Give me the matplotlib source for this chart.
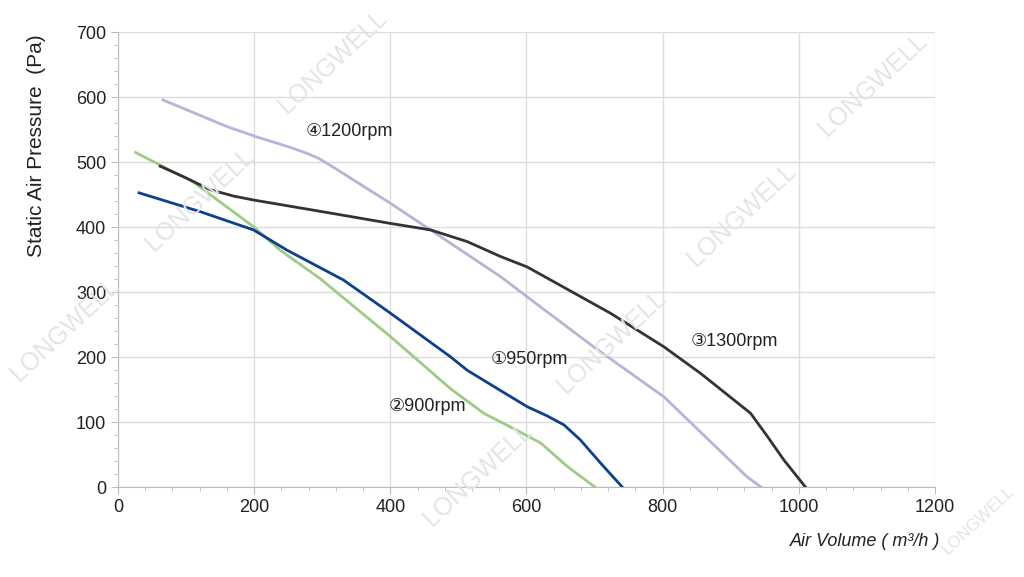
import matplotlib
matplotlib.use('Agg')
from matplotlib import pyplot as plt
from matplotlib.ticker import MultipleLocator

plt.rcParams['font.family'] = ['Liberation Sans', 'DejaVu Sans']

## Fan curves (air volume m3/h, static pressure Pa)
x_950 = [31, 121, 199, 248, 331, 400, 488, 513, 560, 601, 630, 655, 679, 709, 741]
y_950 = [453, 424, 396, 365, 319, 268, 201, 180, 150, 124, 110, 96, 73, 37, 0]

x_900 = [26, 110, 199, 238, 297, 400, 488, 537, 576, 621, 660, 701]
y_900 = [515, 470, 401, 365, 321, 232, 152, 114, 93, 68, 32, 0]

x_1300 = [62, 100, 135, 170, 199, 317, 400, 459, 513, 562, 601, 723, 802, 856, 929, 954, 978, 1010]
y_1300 = [494, 476, 458, 448, 442, 421, 406, 396, 378, 355, 339, 268, 216, 175, 114, 78, 42, 0]

x_1200 = [66, 160, 204, 250, 277, 295, 320, 400, 459, 562, 601, 700, 802, 924, 945]
y_1200 = [596, 555, 539, 524, 514, 506, 490, 437, 396, 324, 293, 215, 139, 16, 0]

labels = ['\u2460950rpm', '\u2461900rpm', '\u24621300rpm', '\u24631200rpm']
label_pos = [(547, 196), (397, 124), (841, 224), (275, 547)]

fig = plt.figure(figsize=(10.24, 5.77), dpi=100)
ax = fig.add_axes([0.1152, 0.1555, 0.7979, 0.7885])

ax.plot(x_900, y_900, color='#9fcb85', linewidth=2)
ax.plot(x_950, y_950, color='#0d3f8f', linewidth=2)
ax.plot(x_1200, y_1200, color='#b3b6d6', linewidth=2)
ax.plot(x_1300, y_1300, color='#333333', linewidth=2)

for txt, (lx, ly) in zip(labels, label_pos):
    ax.text(lx, ly, txt, fontsize=13, color='#222222', va='center', ha='left')

ax.set_xlim(0, 1200)
ax.set_ylim(0, 700)
ax.xaxis.set_major_locator(MultipleLocator(200))
ax.xaxis.set_minor_locator(MultipleLocator(40))
ax.yaxis.set_major_locator(MultipleLocator(100))
ax.yaxis.set_minor_locator(MultipleLocator(20))
ax.grid(True, which='major', color='#dcdcdc', linewidth=1)
ax.set_axisbelow(True)
for s in ['top', 'right']:
    ax.spines[s].set_visible(False)
for s in ['left', 'bottom']:
    ax.spines[s].set_color('#bbbbbb')
ax.tick_params(which='major', length=5, color='#bbbbbb', labelsize=13, labelcolor='#222222')
ax.tick_params(which='minor', length=3, color='#bbbbbb')

ax.set_ylabel('Static Air Pressure  (Pa)', fontsize=15, color='#222222')
ax.yaxis.set_label_coords(-0.088, 0.75)
fig.text(0.918, 0.062, 'Air Volume ( m\u00b3/h )', fontsize=13, style='italic',
         ha='right', va='center', color='#222222')

## LONGWELL watermarks
marks = [(333, 62, 18), (200, 200, 18), (65, 330, 18), (478, 475, 18), (612, 342, 18),
         (742, 215, 18), (873, 85, 18), (978, 520, 12)]
for mx, my, ms in marks:
    fig.text(mx / 1024, 1 - my / 577, 'LONGWELL', fontsize=ms, color='#e4e4e4',
             rotation=43, ha='center', va='center', zorder=0)

fig.savefig('out.png', dpi=100)
